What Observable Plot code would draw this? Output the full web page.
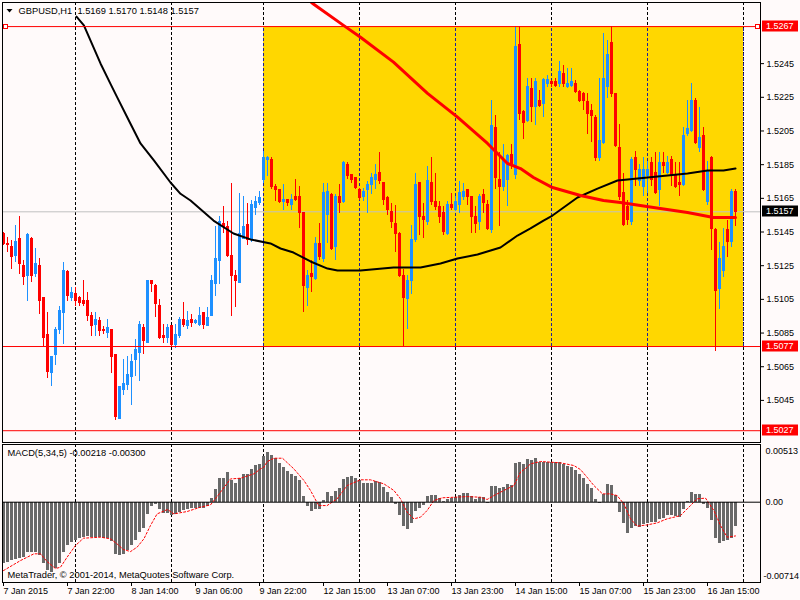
<!DOCTYPE html>
<html><head><meta charset="utf-8">
<script src="https://cdn.jsdelivr.net/npm/d3@7"></script>
<script src="https://cdn.jsdelivr.net/npm/@observablehq/plot@0.6"></script>
<style>
html,body{margin:0;padding:0;background:#fffafa;}
#wrap{position:relative;width:800px;height:600px;background:#fffafa;overflow:hidden;}
#wrap svg{position:absolute;left:0;}
</style></head><body><div id="wrap"></div>
<script>
// ---------------- data ----------------
const symbol = "GBPUSD,H1";
const lastOHLC = [1.5169, 1.5170, 1.5148, 1.5157];
const macdName = "MACD(5,34,5)";
const macdLast = [-0.00218, -0.00300];
const copyright = "MetaTrader, \u00a9 2001-2014, MetaQuotes Software Corp.";

const opens = [1.5144,1.5138,1.5136,1.5131,1.5141,1.5125,1.5119,1.5141,1.5120,1.5125,
1.5106,1.5084,1.5061,1.5072,1.5087,1.5097,1.5121,1.5106,1.5108,1.5106,
1.5104,1.5104,1.5095,1.5090,1.5092,1.5087,1.5085,1.5087,1.5072,1.5034,
1.5051,1.5054,1.5059,1.5069,1.5073,1.5088,1.5079,1.5116,1.5113,1.5101,
1.5083,1.5082,1.5089,1.5078,1.5083,1.5093,1.5089,1.5093,1.5091,1.5090,
1.5097,1.5089,1.5095,1.5114,1.5128,1.5150,1.5148,1.5131,1.5119,1.5115,
1.5141,1.5149,1.5140,1.5159,1.5162,1.5176,1.5188,1.5188,1.5172,1.5170,
1.5163,1.5164,1.5161,1.5166,1.5166,1.5156,1.5112,1.5120,1.5117,1.5138,
1.5129,1.5155,1.5167,1.5136,1.5166,1.5163,1.5185,1.5179,1.5177,1.5170,
1.5166,1.5170,1.5173,1.5176,1.5180,1.5174,1.5165,1.5157,1.5150,1.5144,
1.5119,1.5105,1.5116,1.5140,1.5174,1.5154,1.5151,1.5174,1.5163,1.5160,
1.5156,1.5144,1.5161,1.5158,1.5161,1.5166,1.5170,1.5166,1.5154,1.5151,
1.5167,1.5161,1.5146,1.5207,1.5176,1.5172,1.5176,1.5191,1.5179,1.5256,
1.5216,1.5211,1.5230,1.5219,1.5223,1.5221,1.5233,1.5234,1.5234,1.5233,
1.5239,1.5231,1.5232,1.5233,1.5228,1.5227,1.5222,1.5217,1.5213,1.5189,
1.5198,1.5231,1.5257,1.5227,1.5195,1.5168,1.5160,1.5151,1.5189,1.5175,
1.5172,1.5178,1.5186,1.5180,1.5170,1.5186,1.5180,1.5188,1.5179,1.5174,
1.5173,1.5203,1.5205,1.5223,1.5195,1.5202,1.5163,1.5189,1.5146,1.5111,
1.5122,1.5146,1.5139,1.5169];
const highs = [1.5145,1.5142,1.5140,1.5149,1.5154,1.5128,1.5144,1.5142,1.5135,1.5129,
1.5106,1.5097,1.5071,1.5088,1.5101,1.5127,1.5122,1.5112,1.5112,1.5107,
1.5116,1.5109,1.5097,1.5097,1.5094,1.5089,1.5093,1.5087,1.5072,1.5053,
1.5069,1.5071,1.5072,1.5081,1.5092,1.5090,1.5116,1.5116,1.5114,1.5105,
1.5090,1.5090,1.5089,1.5090,1.5094,1.5103,1.5098,1.5096,1.5093,1.5100,
1.5097,1.5100,1.5119,1.5148,1.5154,1.5160,1.5151,1.5174,1.5122,1.5168,
1.5166,1.5162,1.5164,1.5166,1.5169,1.5193,1.5190,1.5189,1.5173,1.5170,
1.5173,1.5164,1.5167,1.5176,1.5172,1.5156,1.5122,1.5128,1.5142,1.5150,
1.5174,1.5174,1.5168,1.5167,1.5173,1.5187,1.5186,1.5179,1.5177,1.5171,
1.5171,1.5175,1.5180,1.5185,1.5192,1.5174,1.5166,1.5162,1.5161,1.5145,
1.5123,1.5119,1.5149,1.5180,1.5174,1.5162,1.5184,1.5189,1.5180,1.5163,
1.5160,1.5163,1.5168,1.5166,1.5175,1.5174,1.5170,1.5166,1.5160,1.5167,
1.5170,1.5164,1.5223,1.5214,1.5192,1.5197,1.5191,1.5197,1.5267,1.5267,
1.5217,1.5236,1.5236,1.5236,1.5229,1.5236,1.5238,1.5235,1.5236,1.5246,
1.5244,1.5242,1.5242,1.5235,1.5229,1.5228,1.5227,1.5221,1.5214,1.5236,
1.5263,1.5259,1.5267,1.5227,1.5209,1.5180,1.5164,1.5189,1.5193,1.5185,
1.5189,1.5187,1.5189,1.5192,1.5192,1.5192,1.5190,1.5190,1.5186,1.5186,
1.5207,1.5223,1.5233,1.5224,1.5219,1.5207,1.5187,1.5190,1.5147,1.5139,
1.5147,1.5152,1.5170,1.5170];
const lows = [1.5137,1.5133,1.5123,1.5127,1.5120,1.5113,1.5104,1.5115,1.5118,1.5096,
1.5077,1.5058,1.5053,1.5066,1.5084,1.5078,1.5104,1.5104,1.5101,1.5101,
1.5101,1.5092,1.5083,1.5083,1.5083,1.5084,1.5082,1.5061,1.5033,1.5034,
1.5048,1.5051,1.5042,1.5059,1.5056,1.5072,1.5079,1.5109,1.5094,1.5081,
1.5079,1.5079,1.5077,1.5076,1.5082,1.5088,1.5087,1.5088,1.5090,1.5089,
1.5087,1.5089,1.5095,1.5107,1.5114,1.5144,1.5130,1.5095,1.5100,1.5115,
1.5141,1.5137,1.5139,1.5155,1.5161,1.5174,1.5178,1.5170,1.5163,1.5162,
1.5158,1.5160,1.5158,1.5163,1.5147,1.5097,1.5101,1.5109,1.5116,1.5128,
1.5127,1.5138,1.5134,1.5128,1.5156,1.5162,1.5176,1.5174,1.5170,1.5164,
1.5163,1.5156,1.5167,1.5170,1.5173,1.5161,1.5155,1.5147,1.5133,1.5118,
1.5077,1.5087,1.5108,1.5139,1.5143,1.5141,1.5149,1.5161,1.5158,1.5150,
1.5143,1.5143,1.5158,1.5157,1.5156,1.5164,1.5161,1.5144,1.5144,1.5146,
1.5156,1.5146,1.5144,1.5170,1.5148,1.5169,1.5160,1.5182,1.5176,1.5211,
1.5200,1.5210,1.5210,1.5208,1.5219,1.5213,1.5231,1.5231,1.5231,1.5231,
1.5231,1.5230,1.5231,1.5227,1.5222,1.5217,1.5203,1.5198,1.5187,1.5187,
1.5197,1.5224,1.5225,1.5195,1.5164,1.5148,1.5149,1.5149,1.5172,1.5172,
1.5166,1.5168,1.5172,1.5167,1.5160,1.5180,1.5179,1.5172,1.5171,1.5166,
1.5172,1.5202,1.5204,1.5197,1.5192,1.5169,1.5161,1.5134,1.5074,1.5099,
1.5118,1.5130,1.5136,1.5148];
const closes = [1.5138,1.5137,1.5130,1.5139,1.5126,1.5118,1.5143,1.5119,1.5126,1.5104,
1.5082,1.5062,1.5071,1.5087,1.5098,1.5122,1.5107,1.5109,1.5104,1.5103,
1.5102,1.5095,1.5089,1.5093,1.5086,1.5086,1.5088,1.5071,1.5035,1.5053,
1.5055,1.5060,1.5068,1.5075,1.5090,1.5080,1.5116,1.5114,1.5102,1.5082,
1.5082,1.5088,1.5078,1.5084,1.5093,1.5090,1.5092,1.5091,1.5092,1.5095,
1.5090,1.5094,1.5116,1.5129,1.5151,1.5148,1.5131,1.5119,1.5116,1.5144,
1.5148,1.5140,1.5161,1.5163,1.5165,1.5189,1.5189,1.5172,1.5170,1.5163,
1.5164,1.5162,1.5164,1.5164,1.5156,1.5113,1.5119,1.5118,1.5138,1.5130,
1.5168,1.5169,1.5135,1.5166,1.5162,1.5186,1.5178,1.5176,1.5171,1.5165,
1.5169,1.5173,1.5177,1.5179,1.5175,1.5164,1.5158,1.5151,1.5144,1.5119,
1.5106,1.5116,1.5140,1.5173,1.5154,1.5152,1.5175,1.5163,1.5160,1.5154,
1.5145,1.5161,1.5159,1.5163,1.5168,1.5169,1.5166,1.5154,1.5150,1.5166,
1.5162,1.5147,1.5208,1.5177,1.5172,1.5188,1.5190,1.5184,1.5255,1.5215,
1.5210,1.5231,1.5219,1.5234,1.5220,1.5235,1.5235,1.5233,1.5232,1.5240,
1.5233,1.5233,1.5234,1.5228,1.5223,1.5223,1.5215,1.5214,1.5189,1.5199,
1.5236,1.5250,1.5227,1.5196,1.5166,1.5149,1.5152,1.5188,1.5182,1.5182,
1.5182,1.5182,1.5176,1.5168,1.5186,1.5184,1.5186,1.5179,1.5172,1.5173,
1.5202,1.5206,1.5223,1.5198,1.5201,1.5170,1.5181,1.5147,1.5110,1.5129,
1.5136,1.5139,1.5169,1.5157];

// moving averages: [bar, price]
const maBlack = [[18.25,1.52729],[20.1,1.52677],[24.25,1.52451],[26.75,1.52330],[28.4,1.52251],[31.75,1.52093],
[34.25,1.51976],[37.6,1.51875],[41.75,1.51744],[44.25,1.51677],[46.75,1.51637],[52.5,1.51518],[57.5,1.51441],
[61.75,1.51406],[66.75,1.51382],[69.25,1.51352],[72.5,1.51328],[76.75,1.51275],[81,1.51233],[83.5,1.51221],
[89.25,1.51221],[97.5,1.51239],[104.25,1.51239],[109.25,1.51263],[113.5,1.51293],[118.5,1.51316],[124.25,1.51358],
[128.5,1.51429],[131.75,1.51471],[135,1.51518],[137.25,1.51548],[143.5,1.51655],[148.5,1.51708],[153.5,1.51756],
[158.5,1.51768],[171,1.51798],[176,1.51815],[180,1.51815],[183,1.51827]];
const maRed = [[75,1.52850],[77.2,1.52809],[85,1.52677],[89.25,1.52607],[97.5,1.52459],[106,1.52273],[113.5,1.52132],
[121,1.51976],[126,1.51857],[129.25,1.51827],[132.5,1.51774],[137.25,1.51714],[144.25,1.51667],[150,1.51637],
[154.25,1.51625],[162.5,1.51596],[171,1.51566],[177.5,1.51536],[183,1.51536]];

// MACD main (histogram) per bar
const macdMain = [
-0.00548,-0.00534,-0.00519,-0.00510,-0.00498,-0.00489,-0.00450,-0.00445,-0.00450,-0.00474,
-0.00548,-0.00608,-0.00622,-0.00593,-0.00548,-0.00445,-0.00385,-0.00356,-0.00341,-0.00326,
-0.00311,-0.00305,-0.00311,-0.00311,-0.00311,-0.00320,-0.00326,-0.00350,-0.00468,-0.00474,
-0.00468,-0.00430,-0.00385,-0.00341,-0.00273,-0.00231,-0.00110,-0.00039,-0.00024,-0.00065,
-0.00098,-0.00098,-0.00119,-0.00110,-0.00089,-0.00074,-0.00065,-0.00059,-0.00053,-0.00053,
-0.00053,-0.00036,0.00030,0.00113,0.00213,0.00207,0.00267,0.00193,0.00163,0.00207,
0.00243,0.00243,0.00290,0.00326,0.00332,0.00403,0.00445,0.00415,0.00385,0.00341,
0.00305,0.00273,0.00243,0.00231,0.00193,0.00050,-0.00039,-0.00083,-0.00065,-0.00065,
0.00015,0.00089,0.00053,0.00095,0.00124,0.00199,0.00222,0.00228,0.00213,0.00193,
0.00163,0.00163,0.00163,0.00184,0.00178,0.00133,0.00089,0.00044,-0.00021,-0.00119,
-0.00213,-0.00243,-0.00193,-0.00083,-0.00053,-0.00030,0.00050,0.00059,0.00059,0.00036,
0.00006,0.00024,0.00030,0.00039,0.00059,0.00074,0.00074,0.00050,0.00021,0.00044,
0.00039,-0.00009,0.00139,0.00139,0.00119,0.00127,0.00157,0.00148,0.00341,0.00356,
0.00332,0.00379,0.00371,0.00385,0.00350,0.00356,0.00356,0.00356,0.00350,0.00356,
0.00332,0.00320,0.00305,0.00282,0.00243,0.00213,0.00154,0.00119,0.00024,-0.00009,
0.00065,0.00154,0.00148,0.00059,-0.00089,-0.00193,-0.00276,-0.00231,-0.00213,-0.00222,
-0.00202,-0.00193,-0.00184,-0.00184,-0.00154,-0.00148,-0.00119,-0.00119,-0.00127,-0.00133,
-0.00065,0.00009,0.00083,0.00065,0.00065,-0.00024,-0.00053,-0.00163,-0.00326,-0.00371,
-0.00350,-0.00341,-0.00326,-0.00218];
// MACD signal line: [bar, value]
const macdSignal = [[0,-0.00608],[4.25,-0.00519],[7.6,-0.00459],[9.25,-0.00459],[10.9,-0.00528],[13,-0.00590],
[14.25,-0.00578],[15.9,-0.00489],[18,-0.00385],[20,-0.00320],[24.25,-0.00311],[26.75,-0.00326],[28.4,-0.00371],
[30,-0.00421],[31.75,-0.00439],[33.4,-0.00400],[35.1,-0.00326],[36.75,-0.00207],[38.4,-0.00104],[41,-0.00065],
[42.6,-0.00104],[45.9,-0.00083],[49.25,-0.00044],[51.75,-0.00024],[54.25,0.00089],[56.75,0.00207],[59.25,0.00213],
[62.6,0.00252],[64.25,0.00296],[65.1,0.00311],[65.9,0.00360],[67.6,0.00391],[69.75,0.00391],[72.6,0.00296],
[75.1,0.00193],[76.75,0.00104],[78.8,-0.00030],[80.9,-0.00030],[83.4,0.00030],[85.9,0.00148],[89.25,0.00199],
[91.75,0.00199],[95.1,0.00163],[97.6,0.00104],[99.25,0.00030],[100.9,-0.00089],[102.6,-0.00148],[104.25,-0.00133],
[105.9,-0.00074],[107.6,0.00015],[109.7,0.00039],[112.6,0.00044],[116,0.00050],[119.25,0.00044],[120.9,0.00024],
[122.6,0.00059],[125.9,0.00119],[127.6,0.00148],[129.25,0.00267],[130.9,0.00311],[131.75,0.00341],[134.25,0.00362],
[139.25,0.00350],[142.6,0.00326],[144.25,0.00290],[145.9,0.00222],[147.6,0.00148],[149.75,0.00074],[151.75,0.00074],
[153.4,0.00059],[155.1,-0.00015],[156.75,-0.00148],[158.4,-0.00213],[160.9,-0.00202],[163.4,-0.00184],
[165.9,-0.00148],[169.25,-0.00119],[171.75,-0.00030],[173.4,0.00030],[175.5,0.00036],[177.6,-0.00074],
[179.25,-0.00207],[180.9,-0.00311],[183,-0.00300]];

// objects / levels
const zone = {fromBar: 65, toBar: 185, high: 1.5267, low: 1.5077};
const redLevels = [1.5267, 1.5077, 1.5027];
const lastPrice = 1.5157;
const priceTicks = [1.5245,1.5225,1.5205,1.5185,1.5165,1.5145,1.5125,1.5105,1.5085,1.5065,1.5045];
const priceRange = [1.50200, 1.52813];
const macdRange = [-0.00714, 0.00513];
const gridBars = [18, 42, 65, 89, 113, 137, 161, 185];
const timeTickBars = [0,16,32,48,64,80,96,112,128,144,160,176];
const timeTickLabels = ["7 Jan 2015","7 Jan 22:00","8 Jan 14:00","9 Jan 06:00","9 Jan 22:00","12 Jan 15:00",
  "13 Jan 07:00","13 Jan 23:00","14 Jan 15:00","15 Jan 07:00","15 Jan 23:00","16 Jan 15:00"];
const barSpan = [-0.25, 189.25];

// ---------------- drawing ----------------
const BG = "#fffafa";
const FONT = "'Liberation Sans', Arial, sans-serif";
const FS = 9;
const UP = "#1e90ff", DOWN = "#ff0000";
const candles = opens.map((o, i) => ({i, o, h: highs[i], l: lows[i], c: closes[i]}));
const col = d => d.c >= d.o ? UP : DOWN;
const baseStyle = {background: BG, fontFamily: FONT, fontSize: FS + "px", color: "#000", overflow: "visible"};
const txt = {fontFamily: FONT, fontSize: FS, fill: "#000", textAnchor: "start"};
const titleTxt = {...txt, fontSize: 9.3};

const main = Plot.plot({
  width: 800, height: 443,
  marginTop: 2, marginRight: 40, marginBottom: 1, marginLeft: 2,
  style: baseStyle,
  x: {type: "linear", domain: barSpan, axis: null},
  y: {type: "linear", domain: priceRange},
  marks: [
    Plot.ruleX(gridBars, {stroke: "#000", strokeDasharray: "3,2"}),
    Plot.rect([zone], {x1: "fromBar", x2: "toBar", y1: "low", y2: "high", fill: "#ffd700", shapeRendering: "crispEdges"}),
    Plot.ruleX(gridBars.filter(b => b >= zone.fromBar && b <= zone.toBar),
      {y1: zone.low, y2: zone.high, stroke: "#1e1e9a", strokeDasharray: "3,2"}),
    Plot.ruleY([lastPrice], {stroke: "#c0c0c0"}),
    Plot.ruleX(candles, {x: "i", y1: "l", y2: "h", stroke: col, shapeRendering: "crispEdges"}),
    Plot.rect(candles, {x1: d => d.i - 0.375, x2: d => d.i + 0.375, y1: "o", y2: "c", fill: col,
      insetTop: -0.5, insetBottom: -0.5, shapeRendering: "crispEdges"}),
    Plot.line(maBlack, {x: d => d[0], y: d => d[1], stroke: "#000", strokeWidth: 2, clip: true}),
    Plot.line(maRed, {x: d => d[0], y: d => d[1], stroke: "#ff0000", strokeWidth: 3, clip: true}),
    Plot.ruleY(redLevels, {stroke: "#ff0000"}),
    Plot.axisY({anchor: "right", ticks: priceTicks, tickFormat: d => d.toFixed(4), tickSize: 3, tickPadding: 3,
      label: null, fontSize: FS}),
    Plot.text([`${symbol}\u00a0\u00a0${lastOHLC.map(v => v.toFixed(4)).join(" ")}`],
      {...titleTxt, frameAnchor: "top-left", dx: 16, dy: 8.5, lineAnchor: "middle"}),
    Plot.frame({stroke: "#000", shapeRendering: "crispEdges"})
  ]
});

const macdPlot = Plot.plot({
  width: 800, height: 156,
  marginTop: 0, marginRight: 40, marginBottom: 18, marginLeft: 2,
  style: baseStyle,
  x: {type: "linear", domain: barSpan},
  y: {type: "linear", domain: macdRange, axis: null},
  marks: [
    Plot.ruleX(gridBars, {stroke: "#000", strokeDasharray: "3,2"}),
    Plot.rect(macdMain.map((v, i) => ({i, v})), {x1: d => d.i - 0.375, x2: d => d.i + 0.375, y1: 0, y2: "v",
      fill: "#696969", shapeRendering: "crispEdges"}),
    Plot.line(macdSignal, {x: d => d[0], y: d => d[1], stroke: "#ff0000", strokeWidth: 1, strokeDasharray: "2,2"}),
    Plot.text([`${macdName} ${macdLast.map(v => v.toFixed(5)).join(" ")}`],
      {...titleTxt, frameAnchor: "top-left", dx: 5, dy: 9, lineAnchor: "middle"}),
    Plot.text([copyright], {...titleTxt, frameAnchor: "bottom-left", dx: 5, dy: -7, lineAnchor: "middle"}),
    Plot.text([macdRange[1]], {...txt, y: d => d, frameAnchor: "right", dx: 5, dy: 7, text: d => d.toFixed(5)}),
    Plot.text([0], {...txt, y: d => d, frameAnchor: "right", dx: 5, text: () => "0.00"}),
    Plot.text([macdRange[0]], {...txt, y: d => d, frameAnchor: "right", dx: 3, dy: -6, text: d => d.toFixed(5)}),
    Plot.tickY([0], {x1: barSpan[1], stroke: "#000"}),
    Plot.axisX({anchor: "bottom", ticks: timeTickBars, tickFormat: d => timeTickLabels[timeTickBars.indexOf(d)],
      tickSize: 4, tickPadding: 1, textAnchor: "start", label: null, fontSize: FS}),
    Plot.frame({stroke: "#000", shapeRendering: "crispEdges"})
  ]
});

const wrap = document.getElementById("wrap");
main.style.top = "0px";
macdPlot.style.top = "444px";
wrap.appendChild(main);
wrap.appendChild(macdPlot);

// price-label boxes and selection markers drawn through the plot's own y scale
const yS = main.scale("y");
const sel = d3.select(main).append("g");
const boxes = redLevels.map(v => ({v, bg: "#ff0000"})).concat([{v: lastPrice, bg: "#000000"}]);
for (const b of boxes) {
  const y = Math.round(yS.apply(b.v));
  sel.append("rect").attr("x", 762).attr("y", y - 5.5).attr("width", 36).attr("height", 11).attr("fill", b.bg);
  sel.append("text").attr("x", 766).attr("y", y).attr("dy", "0.35em").attr("fill", "#fff")
    .attr("text-anchor", "start").attr("font-family", FONT).attr("font-size", FS).text(b.v.toFixed(4));
}
const yTop = Math.round(yS.apply(redLevels[0])) + 0.5;
for (const x of [3.5, 755.5]) {
  sel.append("rect").attr("x", x).attr("y", yTop - 2).attr("width", 4).attr("height", 4)
    .attr("fill", "#fff").attr("stroke", "#ff0000");
}
sel.append("path").attr("d", "M6.5,9 L12.5,9 L9.5,12.5 Z").attr("fill", "#000");
</script></body></html>
